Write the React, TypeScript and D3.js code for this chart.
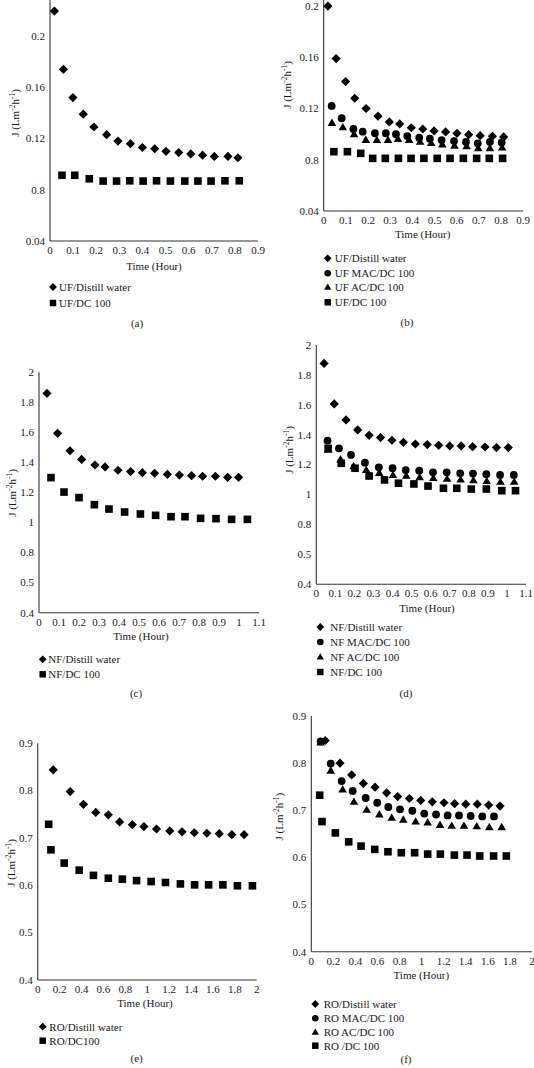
import React from 'react';
import * as d3 from 'd3';

// ---------- Data: panel (a) UF ----------
const aTimeDistill = [0.019, 0.058, 0.099, 0.144, 0.19, 0.245, 0.294, 0.348, 0.4, 0.453, 0.502, 0.557, 0.609, 0.66, 0.711, 0.77, 0.813];
const aFluxDistill = [0.2195, 0.174, 0.152, 0.139, 0.129, 0.123, 0.118, 0.116, 0.113, 0.112, 0.11, 0.109, 0.108, 0.107, 0.106, 0.106, 0.105];
const aTimeDC = [0.052, 0.107, 0.17, 0.23, 0.288, 0.345, 0.403, 0.461, 0.521, 0.583, 0.64, 0.697, 0.757, 0.819];
const aFluxDC = [0.0913, 0.0913, 0.0886, 0.0868, 0.0868, 0.087, 0.0868, 0.087, 0.0868, 0.0868, 0.0868, 0.0868, 0.087, 0.087];

// ---------- Data: panel (b) UF ----------
const bTimeDistill = [0.019, 0.056, 0.099, 0.14, 0.191, 0.245, 0.296, 0.343, 0.395, 0.447, 0.498, 0.55, 0.601, 0.654, 0.706, 0.761, 0.812];
const bFluxDistill = [0.2, 0.159, 0.141, 0.128, 0.12, 0.114, 0.1095, 0.108, 0.105, 0.104, 0.1025, 0.1017, 0.1006, 0.0996, 0.0988, 0.0983, 0.0978];
const bTimeMAC = [0.036, 0.081, 0.134, 0.176, 0.231, 0.28, 0.326, 0.377, 0.431, 0.479, 0.532, 0.588, 0.642, 0.695, 0.75, 0.803];
const bFluxMAC = [0.122, 0.1124, 0.104, 0.1019, 0.1007, 0.1007, 0.0999, 0.0985, 0.0972, 0.0964, 0.0954, 0.0946, 0.0939, 0.0928, 0.094, 0.0935];
const bTimeAC = [0.037, 0.086, 0.137, 0.19, 0.24, 0.29, 0.335, 0.385, 0.435, 0.485, 0.535, 0.59, 0.645, 0.697, 0.75, 0.805];
const bFluxAC = [0.1087, 0.1053, 0.1, 0.0955, 0.0955, 0.0955, 0.0962, 0.0955, 0.094, 0.093, 0.092, 0.091, 0.0905, 0.089, 0.089, 0.0895];
const bTimeDC = [0.046, 0.107, 0.167, 0.221, 0.278, 0.337, 0.394, 0.452, 0.512, 0.57, 0.63, 0.69, 0.747, 0.807];
const bFluxDC = [0.0863, 0.0863, 0.085, 0.0811, 0.0811, 0.0811, 0.0811, 0.0811, 0.0811, 0.0811, 0.0811, 0.0811, 0.0811, 0.0811];

// ---------- Data: panel (c) NF ----------
const cTimeDistill = [0.04, 0.093, 0.155, 0.213, 0.28, 0.33, 0.395, 0.458, 0.517, 0.578, 0.642, 0.702, 0.763, 0.818, 0.882, 0.943, 0.998];
const cFluxDistill = [1.86, 1.594, 1.478, 1.42, 1.383, 1.37, 1.348, 1.339, 1.332, 1.328, 1.321, 1.316, 1.312, 1.308, 1.308, 1.301, 1.301];
const cTimeDC = [0.06, 0.125, 0.2, 0.277, 0.35, 0.428, 0.507, 0.583, 0.66, 0.73, 0.808, 0.885, 0.963, 1.042];
const cFluxDC = [1.299, 1.203, 1.166, 1.119, 1.09, 1.07, 1.057, 1.048, 1.039, 1.039, 1.028, 1.026, 1.021, 1.021];

// ---------- Data: panel (d) NF ----------
const dTimeDistill = [0.041, 0.094, 0.156, 0.217, 0.277, 0.337, 0.397, 0.457, 0.52, 0.582, 0.642, 0.7, 0.76, 0.82, 0.885, 0.945, 1.007];
const dFluxDistill = [1.877, 1.606, 1.499, 1.432, 1.396, 1.381, 1.363, 1.349, 1.338, 1.334, 1.329, 1.325, 1.325, 1.32, 1.318, 1.314, 1.314];
const dTimeMAC = [0.059, 0.119, 0.182, 0.255, 0.328, 0.4, 0.469, 0.54, 0.612, 0.684, 0.755, 0.822, 0.892, 0.964, 1.036];
const dFluxMAC = [1.36, 1.309, 1.265, 1.213, 1.182, 1.176, 1.164, 1.16, 1.149, 1.149, 1.142, 1.14, 1.136, 1.131, 1.131];
const dTimeAC = [0.062, 0.127, 0.196, 0.262, 0.33, 0.402, 0.472, 0.542, 0.614, 0.686, 0.757, 0.824, 0.894, 0.966, 1.038];
const dFluxAC = [1.3, 1.235, 1.19, 1.165, 1.145, 1.13, 1.125, 1.115, 1.11, 1.105, 1.1, 1.095, 1.09, 1.085, 1.085];
const dTimeDC = [0.062, 0.131, 0.203, 0.277, 0.358, 0.431, 0.512, 0.586, 0.667, 0.737, 0.813, 0.892, 0.973, 1.045];
const dFluxDC = [1.309, 1.209, 1.176, 1.124, 1.098, 1.076, 1.071, 1.057, 1.042, 1.042, 1.037, 1.037, 1.026, 1.026];

// ---------- Data: panel (e) RO ----------
const eTimeDistill = [0.142, 0.297, 0.418, 0.53, 0.645, 0.748, 0.864, 0.97, 1.085, 1.206, 1.318, 1.43, 1.545, 1.658, 1.773, 1.885];
const eFluxDistill = [0.844, 0.798, 0.771, 0.754, 0.749, 0.734, 0.728, 0.724, 0.719, 0.715, 0.713, 0.711, 0.71, 0.709, 0.707, 0.707];
const eTimeDC = [0.1, 0.121, 0.242, 0.379, 0.509, 0.645, 0.773, 0.903, 1.036, 1.167, 1.303, 1.433, 1.561, 1.691, 1.824, 1.961];
const eFluxDC = [0.729, 0.675, 0.647, 0.632, 0.621, 0.615, 0.613, 0.61, 0.608, 0.606, 0.603, 0.601, 0.601, 0.601, 0.599, 0.599];

// ---------- Data: panel (f) RO ----------
const fTimeDistill = [0.127, 0.26, 0.366, 0.472, 0.578, 0.683, 0.783, 0.889, 0.992, 1.097, 1.203, 1.3, 1.4, 1.505, 1.608, 1.711];
const fFluxDistill = [0.848, 0.8, 0.775, 0.757, 0.749, 0.737, 0.729, 0.725, 0.721, 0.718, 0.716, 0.714, 0.713, 0.713, 0.711, 0.709];
const fTimeMAC = [0.085, 0.176, 0.275, 0.375, 0.493, 0.598, 0.698, 0.804, 0.916, 1.024, 1.131, 1.236, 1.339, 1.445, 1.55, 1.656];
const fFluxMAC = [0.846, 0.799, 0.762, 0.741, 0.726, 0.716, 0.707, 0.702, 0.699, 0.693, 0.691, 0.689, 0.689, 0.688, 0.687, 0.687];
const fTimeAC = [0.085, 0.176, 0.284, 0.387, 0.502, 0.617, 0.729, 0.834, 0.946, 1.055, 1.167, 1.273, 1.384, 1.5, 1.614, 1.726];
const fFluxAC = [0.844, 0.784, 0.744, 0.718, 0.701, 0.691, 0.684, 0.68, 0.676, 0.674, 0.669, 0.667, 0.667, 0.666, 0.664, 0.664];
const fTimeDC = [0.076, 0.097, 0.218, 0.339, 0.451, 0.575, 0.695, 0.816, 0.937, 1.055, 1.17, 1.297, 1.412, 1.527, 1.653, 1.768];
const fFluxDC = [0.732, 0.676, 0.652, 0.633, 0.624, 0.617, 0.612, 0.61, 0.61, 0.607, 0.607, 0.605, 0.605, 0.603, 0.603, 0.603];

// ---------- Tick values & labels ----------
const uvXTicks = [0, 0.1, 0.2, 0.3, 0.4, 0.5, 0.6, 0.7, 0.8, 0.9];
const uvXLabels = ['0', '0.1', '0.2', '0.3', '0.4', '0.5', '0.6', '0.7', '0.8', '0.9'];
const ufYTicks = [0.04, 0.08, 0.12, 0.16, 0.2];
const ufYLabels = ['0.04', '0.8', '0.12', '0.16', '0.2'];
const nfXTicks = [0, 0.1, 0.2, 0.3, 0.4, 0.5, 0.6, 0.7, 0.8, 0.9, 1, 1.1];
const nfXLabels = ['0', '0.1', '0.2', '0.3', '0.4', '0.5', '0.6', '0.7', '0.8', '0.9', '1', '1.1'];
const nfYTicks = [0.4, 0.6, 0.8, 1, 1.2, 1.4, 1.6, 1.8, 2];
const nfYLabels = ['0.4', '0.5', '0.8', '1', '1.2', '1.4', '1.6', '1.8', '2'];
const roXTicks = [0, 0.2, 0.4, 0.6, 0.8, 1, 1.2, 1.4, 1.6, 1.8, 2];
const roXLabels = ['0', '0.2', '0.4', '0.6', '0.8', '1', '1.2', '1.4', '1.6', '1.8', '2'];
const roYTicks = [0.4, 0.5, 0.6, 0.7, 0.8, 0.9];
const roYLabels = ['0.4', '0.5', '0.6', '0.7', '0.8', '0.9'];

type Shape = 'diamond' | 'circle' | 'triangle' | 'square';
interface Series { x: number[]; y: number[]; shape: Shape; label: string }
interface Panel {
  xDomain: [number, number]; xRange: [number, number];
  yDomain: [number, number]; yRange: [number, number];
  xTicks: number[]; xLabels: string[]; yTicks: number[]; yLabels: string[];
  xTitle: [number, number]; yTitle: [number, number];
  legend: { x: number; textX: number; ys: number[] };
  caption: { text: string; x: number; y: number };
  series: Series[];
}

const panels: Panel[] = [
  {
    xDomain: [0, 0.9], xRange: [50, 258], yDomain: [0.04, 0.24], yRange: [241, -15.2],
    xTicks: uvXTicks, xLabels: uvXLabels, yTicks: ufYTicks, yLabels: ufYLabels,
    xTitle: [154, 266], yTitle: [15, 113],
    legend: { x: 53, textX: 59, ys: [287, 303] },
    caption: { text: '(a)', x: 137, y: 323 },
    series: [
      { x: aTimeDistill, y: aFluxDistill, shape: 'diamond', label: 'UF/Distill water' },
      { x: aTimeDC, y: aFluxDC, shape: 'square', label: 'UF/DC 100' },
    ],
  },
  {
    xDomain: [0, 0.9], xRange: [323.7, 523.2], yDomain: [0.04, 0.24], yRange: [211, -45.2],
    xTicks: uvXTicks, xLabels: uvXLabels, yTicks: ufYTicks, yLabels: ufYLabels,
    xTitle: [422.7, 234], yTitle: [287, 85],
    legend: { x: 327.7, textX: 334.7, ys: [258.3, 273.3, 287.3, 302.3] },
    caption: { text: '(b)', x: 407, y: 322 },
    series: [
      { x: bTimeDistill, y: bFluxDistill, shape: 'diamond', label: 'UF/Distill water' },
      { x: bTimeMAC, y: bFluxMAC, shape: 'circle', label: 'UF MAC/DC 100' },
      { x: bTimeAC, y: bFluxAC, shape: 'triangle', label: 'UF AC/DC 100' },
      { x: bTimeDC, y: bFluxDC, shape: 'square', label: 'UF/DC 100' },
    ],
  },
  {
    xDomain: [0, 1.1], xRange: [39, 259], yDomain: [0.4, 2], yRange: [612.7, 372.3],
    xTicks: nfXTicks, xLabels: nfXLabels, yTicks: nfYTicks, yLabels: nfYLabels,
    xTitle: [141, 635.7], yTitle: [11.7, 493],
    legend: { x: 42.7, textX: 48.3, ys: [659.3, 674.3] },
    caption: { text: '(c)', x: 136, y: 693 },
    series: [
      { x: cTimeDistill, y: cFluxDistill, shape: 'diamond', label: 'NF/Distill water' },
      { x: cTimeDC, y: cFluxDC, shape: 'square', label: 'NF/DC 100' },
    ],
  },
  {
    xDomain: [0, 1.1], xRange: [316.3, 526], yDomain: [0.4, 2], yRange: [584.3, 345],
    xTicks: nfXTicks, xLabels: nfXLabels, yTicks: nfYTicks, yLabels: nfYLabels,
    xTitle: [427, 608.3], yTitle: [288.7, 450],
    legend: { x: 320.3, textX: 330.3, ys: [627, 642, 657, 672] },
    caption: { text: '(d)', x: 406, y: 693 },
    series: [
      { x: dTimeDistill, y: dFluxDistill, shape: 'diamond', label: 'NF/Distill water' },
      { x: dTimeMAC, y: dFluxMAC, shape: 'circle', label: 'NF MAC/DC 100' },
      { x: dTimeAC, y: dFluxAC, shape: 'triangle', label: 'NF AC/DC 100' },
      { x: dTimeDC, y: dFluxDC, shape: 'square', label: 'NF/DC 100' },
    ],
  },
  {
    xDomain: [0, 2], xRange: [37.7, 256.7], yDomain: [0.4, 0.9], yRange: [980, 743.3],
    xTicks: roXTicks, xLabels: roXLabels, yTicks: roYTicks, yLabels: roYLabels,
    xTitle: [145, 1003.3], yTitle: [11, 863],
    legend: { x: 42.7, textX: 49.3, ys: [1026.7, 1040.7] },
    caption: { text: '(e)', x: 136.7, y: 1058 },
    series: [
      { x: eTimeDistill, y: eFluxDistill, shape: 'diamond', label: 'RO/Distill water' },
      { x: eTimeDC, y: eFluxDC, shape: 'square', label: 'RO/DC100' },
    ],
  },
  {
    xDomain: [0, 2], xRange: [311.3, 531.9], yDomain: [0.4, 0.9], yRange: [951.7, 716],
    xTicks: roXTicks, xLabels: roXLabels, yTicks: roYTicks, yLabels: roYLabels,
    xTitle: [421.3, 975.3], yTitle: [278.7, 816.7],
    legend: { x: 315.3, textX: 323.7, ys: [1004, 1018.3, 1032.3, 1045.7] },
    caption: { text: '(f)', x: 406, y: 1059 },
    series: [
      { x: fTimeDistill, y: fFluxDistill, shape: 'diamond', label: 'RO/Distill water' },
      { x: fTimeMAC, y: fFluxMAC, shape: 'circle', label: 'RO MAC/DC 100' },
      { x: fTimeAC, y: fFluxAC, shape: 'triangle', label: 'RO AC/DC 100' },
      { x: fTimeDC, y: fFluxDC, shape: 'square', label: 'RO /DC 100' },
    ],
  },
];

const FONT = '"Liberation Serif", "DejaVu Serif", serif';
const INK = '#1a1a1a';

function Marker({ shape, cx, cy, k = 1 }: { shape: Shape; cx: number; cy: number; k?: number }) {
  if (shape === 'diamond') {
    const r = 4.6 * k;
    return <path d={`M${cx},${cy - r}L${cx + r},${cy}L${cx},${cy + r}L${cx - r},${cy}Z`} fill="#000" />;
  }
  if (shape === 'square') {
    const h = 3.8 * k;
    return <rect x={cx - h} y={cy - h} width={2 * h} height={2 * h} fill="#000" />;
  }
  if (shape === 'circle') {
    return <circle cx={cx} cy={cy} r={3.9 * k} fill="#000" />;
  }
  const w = 4.3 * k;
  return <path d={`M${cx},${cy - 4.4 * k}L${cx + w},${cy + 3 * k}L${cx - w},${cy + 3 * k}Z`} fill="#000" />;
}

function PanelView({ p }: { p: Panel }) {
  const x = d3.scaleLinear().domain(p.xDomain).range(p.xRange);
  const y = d3.scaleLinear().domain(p.yDomain).range(p.yRange);
  const x0 = x(p.xDomain[0]);
  const y0 = y(p.yDomain[0]);
  return (
    <g>
      <line x1={x0} x2={x0} y1={y(p.yDomain[1])} y2={y0} stroke="#333" strokeWidth={1.1} />
      <line x1={x0} x2={x(p.xDomain[1])} y1={y0} y2={y0} stroke="#333" strokeWidth={1.1} />
      {p.yTicks.map((t, i) => (
        <text key={'y' + i} x={x0 - 5} y={y(t) + 3.8} textAnchor="end" fontSize={11} fill={INK}>{p.yLabels[i]}</text>
      ))}
      {p.xTicks.map((t, i) => (
        <text key={'x' + i} x={x(t)} y={y0 + 13} textAnchor="middle" fontSize={11} fill={INK}>{p.xLabels[i]}</text>
      ))}
      <text x={p.xTitle[0]} y={p.xTitle[1] + 4} textAnchor="middle" fontSize={11} fill={INK}>Time (Hour)</text>
      <text transform={`translate(${p.yTitle[0]},${p.yTitle[1]}) rotate(-90)`} textAnchor="middle" fontSize={11} fill={INK} dy="4">
        J (Lm<tspan dy="-4" fontSize={7.5}>-2</tspan><tspan dy="4">h</tspan><tspan dy="-4" fontSize={7.5}>-1</tspan><tspan dy="4">)</tspan>
      </text>
      {p.series.map((s, si) => (
        <g key={'s' + si}>
          {s.x.map((xv, i) => <Marker key={i} shape={s.shape} cx={x(xv)} cy={y(s.y[i])} />)}
        </g>
      ))}
      {p.series.map((s, si) => (
        <g key={'l' + si}>
          <Marker shape={s.shape} cx={p.legend.x} cy={p.legend.ys[si]} k={0.85} />
          <text x={p.legend.textX} y={p.legend.ys[si] + 4} fontSize={11} fill={INK}>{s.label}</text>
        </g>
      ))}
      <text x={p.caption.x} y={p.caption.y + 4} textAnchor="middle" fontSize={11} fill={INK}>{p.caption.text}</text>
    </g>
  );
}

export default function App() {
  return (
    <svg width={534} height={1068} viewBox="0 0 534 1068"
      style={{ position: 'absolute', left: 0, top: 0, background: '#fff', fontFamily: FONT }}>
      <rect x={0} y={0} width={534} height={1068} fill="#fff" />
      {panels.map((p, i) => <PanelView key={i} p={p} />)}
    </svg>
  );
}
